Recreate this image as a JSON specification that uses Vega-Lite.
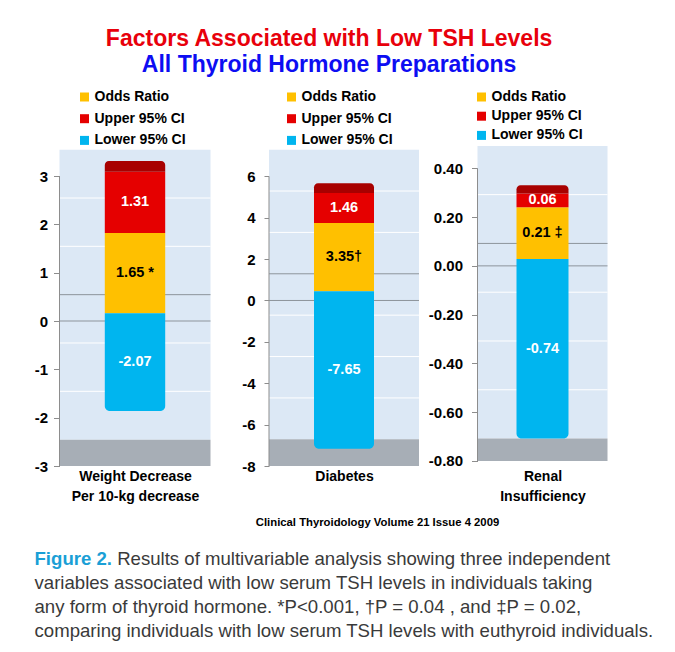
{
  "$schema": "https://vega.github.io/schema/vega-lite/v6.json",
  "background": "white",
  "padding": {"left": 33.5, "top": 28, "right": 0, "bottom": 0},
  "config": {
    "font": "Liberation Sans",
    "view": {"stroke": null},
    "axis": {"labelFont": "Liberation Sans", "labelFontWeight": "bold", "labelFontSize": 15, "labelColor": "black", "tickColor": "#8d8d8d", "domain": false, "grid": false, "titleFont": "Liberation Sans", "titleFontWeight": "bold", "titleFontSize": 14, "titleColor": "black"},
    "legend": {"padding": 0, "labelFont": "Liberation Sans", "labelFontWeight": "bold", "labelFontSize": 14, "labelColor": "black", "symbolType": "square", "symbolSize": 81, "symbolStrokeWidth": 0, "labelOffset": 3}
  },
  "spacing": 10,
  "vconcat": [
    {
      "title": {
        "text": "Factors Associated with Low TSH Levels",
        "subtitle": "All Thyroid Hormone Preparations",
        "anchor": "middle", "dx": 8,
        "font": "Liberation Sans", "fontWeight": "bold", "fontSize": 23, "color": "#e8000b",
        "subtitleFont": "Liberation Sans", "subtitleFontWeight": "bold", "subtitleFontSize": 23, "subtitleColor": "#0d0df2",
        "subtitlePadding": 3, "offset": 13
      },
      "bounds": "flush",
      "spacing": 58.5,
      "resolve": {"scale": {"color": "independent", "y": "independent", "x": "independent"}, "legend": {"color": "independent"}},
      "hconcat": [
        {
          "width": 151, "height": 320,
          "data": {"values": [
            {"factor": "Weight Decrease", "series": "Lower 95% CI", "label": "-2.07", "lo": -1.86, "hi": 0.16},
            {"factor": "Weight Decrease", "series": "Odds Ratio", "label": "1.65 *", "lo": 0.16, "hi": 1.82},
            {"factor": "Weight Decrease", "series": "Upper 95% CI", "label": "1.31", "lo": 1.82, "hi": 3.09},
            {"factor": "Weight Decrease", "series": "cap", "label": "", "lo": 3.09, "hi": 3.31}
          ]},
          "layer": [
            {"transform": [{"filter": "datum.series === 'cap'"}],
             "mark": {"type": "rect", "color": "#dce8f5"},
             "encoding": {
               "x": {"field": "factor", "type": "nominal", "scale": {"paddingInner": 0, "paddingOuter": 0}, "axis": {"title": ["Weight Decrease", "Per 10-kg decrease"], "labels": false, "ticks": false, "domain": false, "titlePadding": 3, "titleLineHeight": 20}},
               "y": {"datum": -2.455, "type": "quantitative", "scale": {"domain": [-3, 3.621], "nice": false, "zero": false}, "axis": {"values": [-3, -2, -1, 0, 1, 2, 3], "format": "d", "labelExpr": "replace(datum.label, '−', '-')", "tickSize": 6, "labelPadding": 6, "title": null}},
               "y2": {"datum": 3.545}}},
            {"transform": [{"filter": "datum.series === 'cap'"}],
             "mark": {"type": "rect", "color": "#a7aeb6"},
             "encoding": {
               "x": {"field": "factor", "type": "nominal", "scale": {"paddingInner": 0, "paddingOuter": 0}},
               "y": {"datum": -3, "type": "quantitative", "scale": {"domain": [-3, 3.621], "nice": false, "zero": false}},
               "y2": {"datum": -2.455}}},
            {"data": {"values": [{"g": 2.545, "c": "w"}, {"g": 1.545, "c": "w"}, {"g": 0.545, "c": "g"}, {"g": -0.455, "c": "w"}, {"g": -1.455, "c": "w"}, {"g": 0, "c": "g"}]},
             "mark": {"type": "rule", "strokeWidth": 1},
             "encoding": {
               "y": {"field": "g", "type": "quantitative", "scale": {"domain": [-3, 3.621], "nice": false, "zero": false}},
               "color": {"condition": {"test": "datum.c === 'g'", "value": "#8d949b"}, "value": "#ffffff"}}},
            {"transform": [{"filter": "datum.series === 'cap'"}],
             "mark": {"type": "rule", "color": "#8d8d8d"},
             "encoding": {
               "x": {"field": "factor", "type": "nominal", "bandPosition": 0, "scale": {"paddingInner": 0, "paddingOuter": 0}},
               "y": {"datum": -3, "type": "quantitative", "scale": {"domain": [-3, 3.621], "nice": false, "zero": false}},
               "y2": {"datum": 3}}},
            {"transform": [{"filter": "datum.series === 'Odds Ratio' || datum.series === 'Upper 95% CI'"}],
             "mark": {"type": "bar", "width": {"band": 0.4}},
             "encoding": {
               "x": {"field": "factor", "type": "nominal", "scale": {"paddingInner": 0, "paddingOuter": 0}},
               "y": {"field": "lo", "type": "quantitative", "scale": {"domain": [-3, 3.621], "nice": false, "zero": false}},
               "y2": {"field": "hi"},
               "color": {"field": "series", "type": "nominal", "scale": {"domain": ["Odds Ratio", "Upper 95% CI", "Lower 95% CI"], "range": ["#ffc000", "#e50000", "#00b5ef"]}, "legend": {"orient": "none", "legendX": 18, "legendY": -56, "title": null, "rowPadding": 7.7}}}},
            {"transform": [{"filter": "datum.series === 'Lower 95% CI'"}],
             "mark": {"type": "bar", "width": {"band": 0.4}, "cornerRadiusBottomLeft": 5, "cornerRadiusBottomRight": 5},
             "encoding": {
               "x": {"field": "factor", "type": "nominal", "scale": {"paddingInner": 0, "paddingOuter": 0}},
               "y": {"field": "lo", "type": "quantitative", "scale": {"domain": [-3, 3.621], "nice": false, "zero": false}},
               "y2": {"field": "hi"},
               "color": {"field": "series", "type": "nominal", "scale": {"domain": ["Odds Ratio", "Upper 95% CI", "Lower 95% CI"], "range": ["#ffc000", "#e50000", "#00b5ef"]}, "legend": {"orient": "none", "legendX": 18, "legendY": -56, "title": null, "rowPadding": 7.7}}}},
            {"transform": [{"filter": "datum.series === 'cap'"}],
             "mark": {"type": "bar", "width": {"band": 0.4}, "color": "#a80000", "cornerRadiusTopLeft": 4, "cornerRadiusTopRight": 4},
             "encoding": {
               "x": {"field": "factor", "type": "nominal", "scale": {"paddingInner": 0, "paddingOuter": 0}},
               "y": {"field": "lo", "type": "quantitative", "scale": {"domain": [-3, 3.621], "nice": false, "zero": false}},
               "y2": {"field": "hi"}}},
            {"transform": [{"filter": "datum.series !== 'cap'"}, {"fold": ["lo", "hi"], "as": ["k", "v"]}],
             "mark": {"type": "text", "font": "Liberation Sans", "fontWeight": "bold", "fontSize": 14.5},
             "encoding": {
               "x": {"field": "factor", "type": "nominal", "scale": {"paddingInner": 0, "paddingOuter": 0}},
               "y": {"aggregate": "mean", "field": "v", "type": "quantitative", "scale": {"domain": [-3, 3.621], "nice": false, "zero": false}},
               "detail": {"field": "series"},
               "text": {"field": "label"},
               "color": {"condition": {"test": "datum.series === 'Odds Ratio'", "value": "black"}, "value": "white"}}}
          ]
        },
        {
          "width": 150, "height": 320,
          "data": {"values": [
            {"factor": "Diabetes", "series": "Lower 95% CI", "label": "-7.65", "lo": -7.17, "hi": 0.45},
            {"factor": "Diabetes", "series": "Odds Ratio", "label": "3.35†", "lo": 0.45, "hi": 3.75},
            {"factor": "Diabetes", "series": "Upper 95% CI", "label": "1.46", "lo": 3.75, "hi": 5.19},
            {"factor": "Diabetes", "series": "cap", "label": "", "lo": 5.19, "hi": 5.67}
          ]},
          "layer": [
            {"transform": [{"filter": "datum.series === 'cap'"}],
             "mark": {"type": "rect", "color": "#dce8f5"},
             "encoding": {
               "x": {"field": "factor", "type": "nominal", "scale": {"paddingInner": 0, "paddingOuter": 0}, "axis": {"title": "Diabetes", "labels": false, "ticks": false, "domain": false, "titlePadding": 3, "titleLineHeight": 20}},
               "y": {"datum": -6.71, "type": "quantitative", "scale": {"domain": [-8, 7.466], "nice": false, "zero": false}, "axis": {"values": [-8, -6, -4, -2, 0, 2, 4, 6], "format": "d", "labelExpr": "replace(datum.label, '−', '-')", "tickSize": 5, "labelPadding": 9, "title": null}},
               "y2": {"datum": 7.29}}},
            {"transform": [{"filter": "datum.series === 'cap'"}],
             "mark": {"type": "rect", "color": "#a7aeb6"},
             "encoding": {
               "x": {"field": "factor", "type": "nominal", "scale": {"paddingInner": 0, "paddingOuter": 0}},
               "y": {"datum": -8, "type": "quantitative", "scale": {"domain": [-8, 7.466], "nice": false, "zero": false}},
               "y2": {"datum": -6.71}}},
            {"data": {"values": [{"g": 5.29, "c": "w"}, {"g": 3.29, "c": "w"}, {"g": 1.29, "c": "g"}, {"g": -0.71, "c": "w"}, {"g": -2.71, "c": "w"}, {"g": -4.71, "c": "w"}, {"g": 0, "c": "g"}]},
             "mark": {"type": "rule", "strokeWidth": 1},
             "encoding": {
               "y": {"field": "g", "type": "quantitative", "scale": {"domain": [-8, 7.466], "nice": false, "zero": false}},
               "color": {"condition": {"test": "datum.c === 'g'", "value": "#8d949b"}, "value": "#ffffff"}}},
            {"transform": [{"filter": "datum.series === 'cap'"}],
             "mark": {"type": "rule", "color": "#8d8d8d"},
             "encoding": {
               "x": {"field": "factor", "type": "nominal", "bandPosition": 0, "scale": {"paddingInner": 0, "paddingOuter": 0}},
               "y": {"datum": -8, "type": "quantitative", "scale": {"domain": [-8, 7.466], "nice": false, "zero": false}},
               "y2": {"datum": 6}}},
            {"transform": [{"filter": "datum.series === 'Odds Ratio' || datum.series === 'Upper 95% CI'"}],
             "mark": {"type": "bar", "width": {"band": 0.4}},
             "encoding": {
               "x": {"field": "factor", "type": "nominal", "scale": {"paddingInner": 0, "paddingOuter": 0}},
               "y": {"field": "lo", "type": "quantitative", "scale": {"domain": [-8, 7.466], "nice": false, "zero": false}},
               "y2": {"field": "hi"},
               "color": {"field": "series", "type": "nominal", "scale": {"domain": ["Odds Ratio", "Upper 95% CI", "Lower 95% CI"], "range": ["#ffc000", "#e50000", "#00b5ef"]}, "legend": {"orient": "none", "legendX": 15.5, "legendY": -56, "title": null, "rowPadding": 7.7}}}},
            {"transform": [{"filter": "datum.series === 'Lower 95% CI'"}],
             "mark": {"type": "bar", "width": {"band": 0.4}, "cornerRadiusBottomLeft": 5, "cornerRadiusBottomRight": 5},
             "encoding": {
               "x": {"field": "factor", "type": "nominal", "scale": {"paddingInner": 0, "paddingOuter": 0}},
               "y": {"field": "lo", "type": "quantitative", "scale": {"domain": [-8, 7.466], "nice": false, "zero": false}},
               "y2": {"field": "hi"},
               "color": {"field": "series", "type": "nominal", "scale": {"domain": ["Odds Ratio", "Upper 95% CI", "Lower 95% CI"], "range": ["#ffc000", "#e50000", "#00b5ef"]}, "legend": {"orient": "none", "legendX": 15.5, "legendY": -56, "title": null, "rowPadding": 7.7}}}},
            {"transform": [{"filter": "datum.series === 'cap'"}],
             "mark": {"type": "bar", "width": {"band": 0.4}, "color": "#a80000", "cornerRadiusTopLeft": 4, "cornerRadiusTopRight": 4},
             "encoding": {
               "x": {"field": "factor", "type": "nominal", "scale": {"paddingInner": 0, "paddingOuter": 0}},
               "y": {"field": "lo", "type": "quantitative", "scale": {"domain": [-8, 7.466], "nice": false, "zero": false}},
               "y2": {"field": "hi"}}},
            {"transform": [{"filter": "datum.series !== 'cap'"}, {"fold": ["lo", "hi"], "as": ["k", "v"]}],
             "mark": {"type": "text", "font": "Liberation Sans", "fontWeight": "bold", "fontSize": 14.5},
             "encoding": {
               "x": {"field": "factor", "type": "nominal", "scale": {"paddingInner": 0, "paddingOuter": 0}},
               "y": {"aggregate": "mean", "field": "v", "type": "quantitative", "scale": {"domain": [-8, 7.466], "nice": false, "zero": false}},
               "detail": {"field": "series"},
               "text": {"field": "label"},
               "color": {"condition": {"test": "datum.series === 'Odds Ratio'", "value": "black"}, "value": "white"}}}
          ]
        },
        {
          "width": 130, "height": 320,
          "data": {"values": [
            {"factor": "Renal Insufficiency", "series": "Lower 95% CI", "label": "-0.74", "lo": -0.708, "hi": 0.028},
            {"factor": "Renal Insufficiency", "series": "Odds Ratio", "label": "0.21 ‡", "lo": 0.028, "hi": 0.24},
            {"factor": "Renal Insufficiency", "series": "Upper 95% CI", "label": "0.06", "lo": 0.24, "hi": 0.297},
            {"factor": "Renal Insufficiency", "series": "cap", "label": "", "lo": 0.297, "hi": 0.33}
          ]},
          "layer": [
            {"transform": [{"filter": "datum.series === 'cap'"}],
             "mark": {"type": "rect", "color": "#dce8f5"},
             "encoding": {
               "x": {"field": "factor", "type": "nominal", "scale": {"paddingInner": 0, "paddingOuter": 0}, "axis": {"title": ["Renal", "Insufficiency"], "labels": false, "ticks": false, "domain": false, "titlePadding": 3, "titleLineHeight": 20}},
               "y": {"datum": -0.708, "type": "quantitative", "scale": {"domain": [-0.8205, 0.4914], "nice": false, "zero": false}, "axis": {"values": [-0.8, -0.6, -0.4, -0.2, 0, 0.2, 0.4], "format": ".2f", "labelExpr": "replace(datum.label, '−', '-')", "tickSize": 6, "labelPadding": 9, "title": null}},
               "y2": {"datum": 0.4914}}},
            {"transform": [{"filter": "datum.series === 'cap'"}],
             "mark": {"type": "rect", "color": "#a7aeb6"},
             "encoding": {
               "x": {"field": "factor", "type": "nominal", "scale": {"paddingInner": 0, "paddingOuter": 0}},
               "y": {"datum": -0.8, "type": "quantitative", "scale": {"domain": [-0.8205, 0.4914], "nice": false, "zero": false}},
               "y2": {"datum": -0.708}}},
            {"data": {"values": [{"g": 0.292, "c": "w"}, {"g": 0.092, "c": "g"}, {"g": -0.108, "c": "w"}, {"g": -0.308, "c": "w"}, {"g": -0.508, "c": "w"}, {"g": 0, "c": "g"}]},
             "mark": {"type": "rule", "strokeWidth": 1},
             "encoding": {
               "y": {"field": "g", "type": "quantitative", "scale": {"domain": [-0.8205, 0.4914], "nice": false, "zero": false}},
               "color": {"condition": {"test": "datum.c === 'g'", "value": "#8d949b"}, "value": "#ffffff"}}},
            {"transform": [{"filter": "datum.series === 'cap'"}],
             "mark": {"type": "rule", "color": "#8d8d8d"},
             "encoding": {
               "x": {"field": "factor", "type": "nominal", "bandPosition": 0, "scale": {"paddingInner": 0, "paddingOuter": 0}},
               "y": {"datum": -0.8, "type": "quantitative", "scale": {"domain": [-0.8205, 0.4914], "nice": false, "zero": false}},
               "y2": {"datum": 0.4}}},
            {"transform": [{"filter": "datum.series === 'Odds Ratio' || datum.series === 'Upper 95% CI'"}],
             "mark": {"type": "bar", "width": {"band": 0.4}},
             "encoding": {
               "x": {"field": "factor", "type": "nominal", "scale": {"paddingInner": 0, "paddingOuter": 0}},
               "y": {"field": "lo", "type": "quantitative", "scale": {"domain": [-0.8205, 0.4914], "nice": false, "zero": false}},
               "y2": {"field": "hi"},
               "color": {"field": "series", "type": "nominal", "scale": {"domain": ["Odds Ratio", "Upper 95% CI", "Lower 95% CI"], "range": ["#ffc000", "#e50000", "#00b5ef"]}, "legend": {"orient": "none", "legendX": -3, "legendY": -56, "title": null, "rowPadding": 5.2}}}},
            {"transform": [{"filter": "datum.series === 'Lower 95% CI'"}],
             "mark": {"type": "bar", "width": {"band": 0.4}, "cornerRadiusBottomLeft": 5, "cornerRadiusBottomRight": 5},
             "encoding": {
               "x": {"field": "factor", "type": "nominal", "scale": {"paddingInner": 0, "paddingOuter": 0}},
               "y": {"field": "lo", "type": "quantitative", "scale": {"domain": [-0.8205, 0.4914], "nice": false, "zero": false}},
               "y2": {"field": "hi"},
               "color": {"field": "series", "type": "nominal", "scale": {"domain": ["Odds Ratio", "Upper 95% CI", "Lower 95% CI"], "range": ["#ffc000", "#e50000", "#00b5ef"]}, "legend": {"orient": "none", "legendX": -3, "legendY": -56, "title": null, "rowPadding": 5.2}}}},
            {"transform": [{"filter": "datum.series === 'cap'"}],
             "mark": {"type": "bar", "width": {"band": 0.4}, "color": "#a80000", "cornerRadiusTopLeft": 4, "cornerRadiusTopRight": 4},
             "encoding": {
               "x": {"field": "factor", "type": "nominal", "scale": {"paddingInner": 0, "paddingOuter": 0}},
               "y": {"field": "lo", "type": "quantitative", "scale": {"domain": [-0.8205, 0.4914], "nice": false, "zero": false}},
               "y2": {"field": "hi"}}},
            {"transform": [{"filter": "datum.series !== 'cap'"}, {"fold": ["lo", "hi"], "as": ["k", "v"]}],
             "mark": {"type": "text", "font": "Liberation Sans", "fontWeight": "bold", "fontSize": 14.5},
             "encoding": {
               "x": {"field": "factor", "type": "nominal", "scale": {"paddingInner": 0, "paddingOuter": 0}},
               "y": {"aggregate": "mean", "field": "v", "type": "quantitative", "scale": {"domain": [-0.8205, 0.4914], "nice": false, "zero": false}},
               "detail": {"field": "series"},
               "text": {"field": "label"},
               "color": {"condition": {"test": "datum.series === 'Odds Ratio'", "value": "black"}, "value": "white"}}}
          ]
        }
      ]
    },
    {
      "width": 549, "height": 20,
      "view": {"fill": null, "stroke": null},
      "data": {"values": [{"t": "Clinical Thyroidology Volume 21 Issue 4 2009"}]},
      "mark": {"type": "text", "font": "Liberation Sans", "fontWeight": "bold", "fontSize": 11.3, "dx": 43.5, "color": "black"},
      "encoding": {"text": {"field": "t", "type": "nominal"}},
      "title": {
        "text": "Figure 2.",
        "subtitle": [
          "\u200b\u00a0\u00a0\u00a0\u00a0\u00a0\u00a0\u00a0\u00a0\u00a0\u00a0\u00a0\u00a0\u00a0\u00a0\u00a0\u00a0Results of multivariable analysis showing three independent",
          "variables associated with low serum TSH levels in individuals taking",
          "any form of thyroid hormone. *P<0.001, †P = 0.04 , and ‡P = 0.02,",
          "comparing individuals with low serum TSH levels with euthyroid individuals."
        ],
        "orient": "bottom", "anchor": "start", "dx": -25, "offset": 17,
        "font": "Liberation Sans", "fontWeight": "bold", "fontSize": 18.6, "color": "#1a9fd6",
        "subtitleFont": "Liberation Sans", "subtitleFontWeight": "normal", "subtitleFontSize": 18.6, "subtitleColor": "#3a3a3a",
        "subtitleLineHeight": 24, "subtitlePadding": -18.6
      }
    }
  ]
}
